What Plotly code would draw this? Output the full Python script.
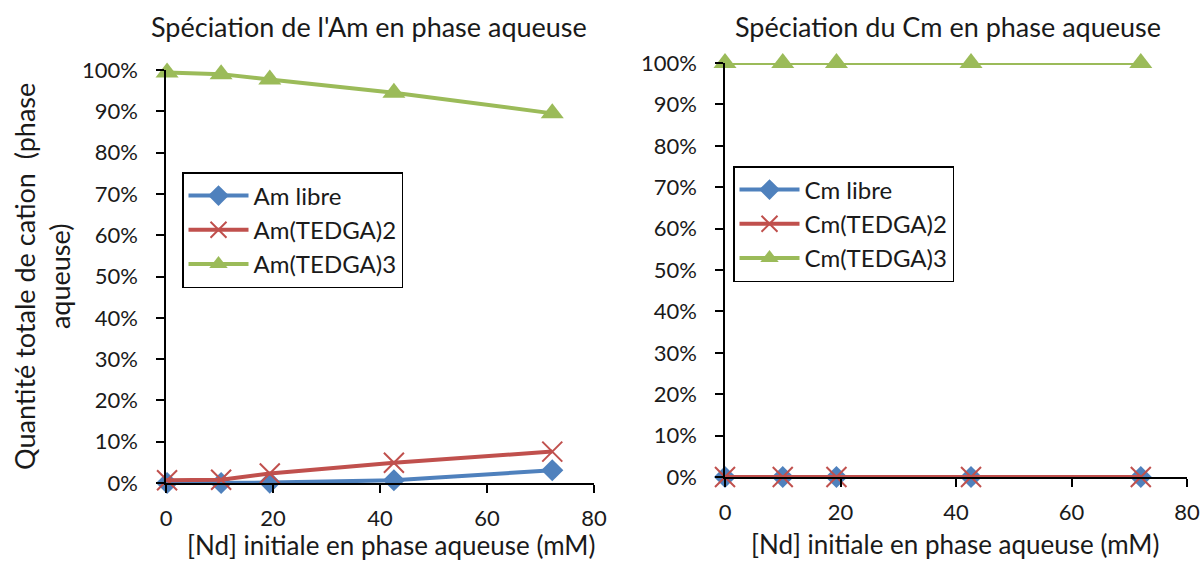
import plotly.graph_objects as go

# ---- data ----
nd_am = [0.2, 10.3, 19.4, 42.6, 72.2]
am_libre = [0.0, 0.0, 0.1, 0.65, 3.1]
am_tedga2 = [0.65, 0.8, 2.3, 4.9, 7.6]
am_tedga3 = [99.4, 99.0, 97.7, 94.5, 89.5]

nd_cm = [0.0, 10.0, 19.3, 42.6, 72.0]
cm_libre = [0.0, 0.0, 0.0, 0.0, 0.0]
cm_tedga2 = [0.0, 0.0, 0.0, 0.0, 0.0]
cm_tedga3 = [100.0, 100.0, 100.0, 100.0, 100.0]

names_am = ["Am libre", "Am(TEDGA)2", "Am(TEDGA)3"]
names_cm = ["Cm libre", "Cm(TEDGA)2", "Cm(TEDGA)3"]
y_ticks = [0, 10, 20, 30, 40, 50, 60, 70, 80, 90, 100]
y_ticktext = ["0%", "10%", "20%", "30%", "40%", "50%", "60%", "70%", "80%", "90%", "100%"]
x_ticks = [0, 20, 40, 60, 80]

BLUE = "#4F81BD"
RED = "#C0504D"
GREEN = "#9BBB59"
TXT = "#1a1a1a"
FONT = "Lato"

styles = [
    dict(color=BLUE, symbol="diamond", size=17, line=dict(width=0)),
    dict(color=RED, symbol="x-thin-open", size=20, line=dict(width=2, color=RED)),
    dict(color=GREEN, symbol="triangle-up", size=20, line=dict(width=0)),
]
colors = [BLUE, RED, GREEN]

fig = go.Figure()

for i, (name, ys, st, c) in enumerate(zip(names_am, [am_libre, am_tedga2, am_tedga3], styles, colors)):
    fig.add_trace(go.Scatter(x=nd_am, y=ys, name=name, mode="lines+markers",
                             line=dict(color=c, width=4), marker=st,
                             xaxis="x", yaxis="y", legend="legend", cliponaxis=False))

for i, (name, ys, st, c) in enumerate(zip(names_cm, [cm_libre, cm_tedga2, cm_tedga3], styles, colors)):
    fig.add_trace(go.Scatter(x=nd_cm, y=ys, name=name, mode="lines+markers",
                             line=dict(color=c, width=4), marker=st,
                             xaxis="x2", yaxis="y2", legend="legend2", cliponaxis=False))

W, H = 1203, 561


def px_x(p):
    return p / W


def px_y(p):
    return (H - p) / H


axis_common = dict(showgrid=False, zeroline=False, showline=True, linecolor="black",
                   linewidth=1.5, ticks="outside", tickcolor="black", tickwidth=1.5,
                   tickfont=dict(family=FONT, size=22, color=TXT))
xaxis_common = dict(range=[0, 80], tickvals=x_ticks, ticklen=8, ticklabelstandoff=7,
                    automargin=False, **axis_common)
yaxis_common = dict(range=[0, 100], tickvals=y_ticks, ticktext=y_ticktext, ticklen=8,
                    ticklabelstandoff=14, automargin=False, **axis_common)

legend_common = dict(xanchor="left", yanchor="top", bordercolor="black", borderwidth=1.5,
                     bgcolor="white", font=dict(family=FONT, size=24, color=TXT),
                     itemwidth=60, tracegroupgap=0)

ann_common = dict(xref="paper", yref="paper", showarrow=False, xanchor="center")

fig.update_layout(
    width=W, height=H,
    margin=dict(l=0, r=0, t=0, b=0),
    paper_bgcolor="white", plot_bgcolor="white",
    font=dict(family=FONT, size=22, color=TXT),
    xaxis=dict(domain=[px_x(166), px_x(594)], anchor="y", **xaxis_common),
    yaxis=dict(domain=[px_y(483), px_y(70)], anchor="x", **yaxis_common),
    xaxis2=dict(domain=[px_x(725), px_x(1187)], anchor="y2", **xaxis_common),
    yaxis2=dict(domain=[px_y(477), px_y(63)], anchor="x2", **yaxis_common),
    legend=dict(x=px_x(182), y=px_y(172), **legend_common),
    legend2=dict(x=px_x(733), y=px_y(166), **legend_common),
    annotations=[
        dict(text="Spéciation de l'Am en phase aqueuse", x=px_x(369), y=px_y(27),
             yanchor="middle", font=dict(size=27), **ann_common),
        dict(text="Spéciation du Cm en phase aqueuse", x=px_x(948), y=px_y(27),
             yanchor="middle", font=dict(size=27), **ann_common),
        dict(text="[Nd] initiale en phase aqueuse (mM)", x=px_x(391), y=px_y(563),
             yanchor="bottom", font=dict(size=26), **ann_common),
        dict(text="[Nd] initiale en phase aqueuse (mM)", x=px_x(955), y=px_y(562),
             yanchor="bottom", font=dict(size=26), **ann_common),
        dict(text="Quantité totale de cation  (phase<br>aqueuse)", x=px_x(42), y=px_y(277),
             yanchor="middle", textangle=-90, font=dict(size=27), **ann_common),
    ],
)

fig.write_html("out.html", config={"displayModeBar": False},
               post_script="document.body.style.margin='0';document.body.style.overflow='hidden';")
